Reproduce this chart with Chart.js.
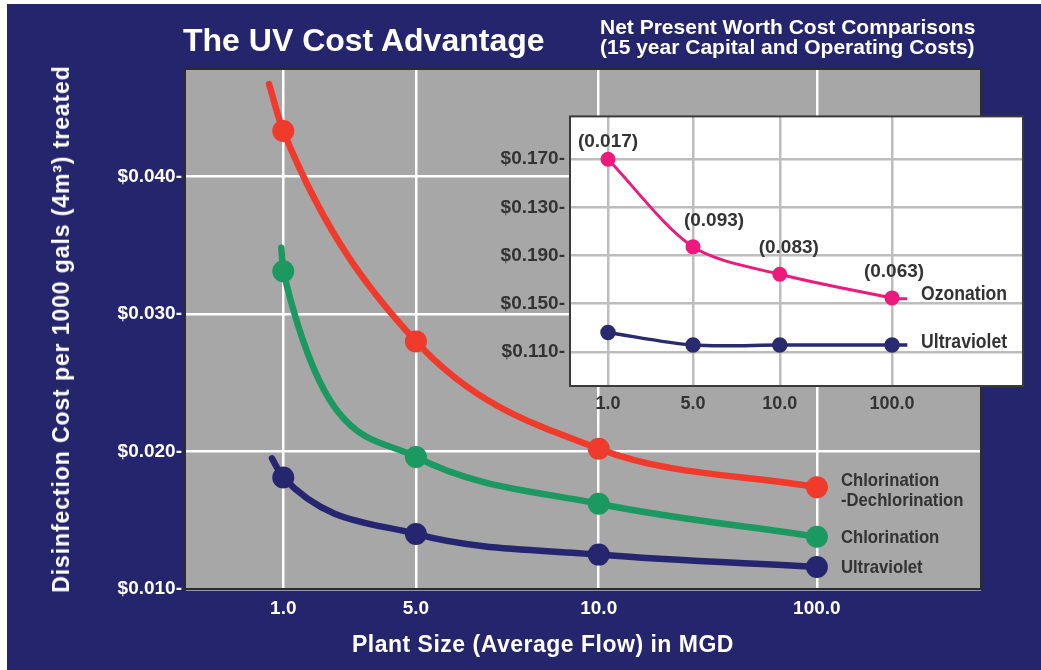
<!DOCTYPE html>
<html>
<head>
<meta charset="utf-8">
<script src="https://cdn.jsdelivr.net/npm/chart.js@4.4.1/dist/chart.umd.min.js"></script>
<style>
  html, body { margin: 0; padding: 0; background: #fff; }
  #frame { position: absolute; left: 7px; top: 4px; width: 1034px; height: 666px; background: #25256e; }
  #main { position: absolute; left: 0; top: 0; }
  #inset { position: absolute; left: 470px; top: 100px; }
  .head { position: absolute; color: #fff; font-family: "Liberation Sans", Arial, sans-serif; font-weight: bold; white-space: nowrap; }
  #ytitle { left: 61px; top: 329px; font-size: 23px; line-height: 24px; letter-spacing: 0.9px;
            transform: translate(-50%, -50%) rotate(-90deg); }
</style>
</head>
<body>
<div id="frame"></div>
<canvas id="main" width="1041" height="670"></canvas>
<canvas id="inset" width="571" height="315"></canvas>
<div class="head" style="left:183px;top:24px;font-size:32px;line-height:32px;">The UV Cost Advantage</div>
<div class="head" style="left:600px;top:17px;font-size:21px;line-height:20px;">Net Present Worth Cost Comparisons<br>(15 year Capital and Operating Costs)</div>
<div class="head" style="left:352px;top:632px;font-size:23px;line-height:24px;letter-spacing:0.5px;">Plant Size (Average Flow) in MGD</div>
<div class="head" id="ytitle">Disinfection Cost per 1000 gals (4m&sup3;) treated</div>
<script>
// plant sizes and where each one sits along the (uneven) x axis
const flowLabels = ["1.0", "5.0", "10.0", "100.0"];
const flowSteps = [1, 2.35, 4.21, 6.43];

// main y axis
const costTicks = [0.01, 0.02, 0.03, 0.04];
const costTickLabels = ["$0.010-", "$0.020-", "$0.030-", "$0.040-"];

// cost per 1000 gals, one value per plant size
const chlorDechlor = [0.0433, 0.0280, 0.0202, 0.0174];
const chlorination = [0.0331, 0.0196, 0.0162, 0.0138];
const ultraviolet = [0.0181, 0.0140, 0.0125, 0.0116];

// the drawn curves start a little left of the 1.0 marker
const leadX = [0.855, 0.98, 0.885];
const leadY = [0.0467, 0.0348, 0.0195];

const mainNames = [["Chlorination", "-Dechlorination"], ["Chlorination"], ["Ultraviolet"]];

// inset: net present worth
const insetSteps = [0, 1, 2.02, 3.34];
const insetLevels = [5, 4, 3, 2, 1];
const insetTickLabels = ["$0.170-", "$0.130-", "$0.190-", "$0.150-", "$0.110-"];
const ozonation = [5.0, 3.18, 2.61, 2.12];
const ozonationNotes = ["(0.017)", "(0.093)", "(0.083)", "(0.063)"];
const uvInset = [1.40, 1.14, 1.14, 1.14];
const insetTailX = 3.52;
const ozonationTail = 2.10;
const uvTail = 1.14;
const insetNames = ["Ozonation", "Ultraviolet"];

const sans = '"Liberation Sans", Arial, sans-serif';

function series(lx, ly, values) {
  return [{ x: lx, y: ly }].concat(flowSteps.map((x, i) => ({ x: x, y: values[i] })));
}

// squeezed text, to get close to the condensed face of the original
function narrowText(ctx, text, x, y, squeeze) {
  ctx.save();
  ctx.translate(x, y);
  ctx.scale(squeeze, 1);
  ctx.fillText(text, 0, 0);
  ctx.restore();
}

const panelBg = {
  id: "panelBg",
  beforeDraw(chart, args, opts) {
    const a = chart.chartArea, ctx = chart.ctx;
    ctx.save();
    ctx.fillStyle = opts.fill;
    ctx.fillRect(a.left, a.top, a.right - a.left, a.bottom - a.top);
    ctx.restore();
  },
  afterDraw(chart, args, opts) {
    const a = chart.chartArea, ctx = chart.ctx;
    ctx.save();
    ctx.strokeStyle = opts.stroke;
    ctx.lineWidth = 2;
    ctx.strokeRect(a.left, a.top, a.right - a.left, a.bottom - a.top);
    ctx.restore();
  }
};

const mainLabels = {
  id: "mainLabels",
  afterDatasetsDraw(chart) {
    const ctx = chart.ctx;
    ctx.save();
    ctx.fillStyle = "#333";
    ctx.font = "bold 19px " + sans;
    ctx.textBaseline = "middle";
    ctx.textAlign = "left";
    chart.data.datasets.forEach((ds, d) => {
      const pts = chart.getDatasetMeta(d).data;
      const p = pts[pts.length - 1];
      const lines = mainNames[d];
      const n = lines.length;
      lines.forEach((t, k) => {
        const y = p.y + 1 + (k - (n - 1) / 2) * 20 + (n > 1 ? 3 : 0);
        narrowText(ctx, t, p.x + 24, y, 0.88);
      });
    });
    ctx.restore();
  }
};

new Chart(document.getElementById("main"), {
  type: "line",
  data: {
    datasets: [
      { label: "Chlorination-Dechlorination", data: series(leadX[0], leadY[0], chlorDechlor),
        borderColor: "#f03a2c", backgroundColor: "#f03a2c" },
      { label: "Chlorination", data: series(leadX[1], leadY[1], chlorination),
        borderColor: "#1c9961", backgroundColor: "#1c9961" },
      { label: "Ultraviolet", data: series(leadX[2], leadY[2], ultraviolet),
        borderColor: "#262670", backgroundColor: "#262670" }
    ]
  },
  options: {
    responsive: false,
    animation: false,
    layout: { padding: { left: 0, top: 69, right: 60, bottom: 0 } },
    elements: {
      line: { borderWidth: 6.5, cubicInterpolationMode: "monotone", borderCapStyle: "round" },
      point: { radius: [0, 11, 11, 11, 11], borderWidth: 0, hoverRadius: 11 }
    },
    plugins: {
      legend: { display: false },
      tooltip: { enabled: false },
      panelBg: { fill: "#a7a7a7", stroke: "#2c2c2c" }
    },
    scales: {
      x: {
        type: "linear", min: 0, max: 8.1,
        afterBuildTicks: s => { s.ticks = flowSteps.map(v => ({ value: v })); },
        afterFit: s => { s.height = 81; },
        ticks: { color: "#fff", padding: 8, autoSkip: false, maxRotation: 0,
          font: { family: sans, size: 19, weight: "bold" },
          callback: (v, i) => flowLabels[i] },
        grid: { color: "#fff", lineWidth: 2.5, drawTicks: false },
        border: { display: true, color: "#2c2c2c", width: 2 }
      },
      y: {
        min: 0.01, max: 0.0478,
        afterBuildTicks: s => { s.ticks = costTicks.map(v => ({ value: v })); },
        afterFit: s => { s.width = 185; },
        ticks: { color: "#fff", padding: 3,
          font: { family: sans, size: 19, weight: "bold" },
          callback: (v, i) => costTickLabels[i] },
        grid: { color: "#fff", lineWidth: 2.5, drawTicks: false },
        border: { display: true, color: "#2c2c2c", width: 2 }
      }
    }
  },
  plugins: [panelBg, mainLabels]
});

const noteOffsets = [[0, -17], [21, -26], [9, -27], [2, -26]];

const insetText = {
  id: "insetText",
  afterDatasetsDraw(chart) {
    const ctx = chart.ctx;
    ctx.save();
    ctx.fillStyle = "#333";
    ctx.font = "bold 19px " + sans;
    ctx.textBaseline = "middle";
    ctx.textAlign = "center";
    const oz = chart.getDatasetMeta(0).data;
    ozonationNotes.forEach((t, i) => {
      narrowText(ctx, t, oz[i].x + noteOffsets[i][0], oz[i].y + noteOffsets[i][1], 1);
    });
    ctx.textAlign = "left";
    ctx.font = "bold 20px " + sans;
    [0, 1].forEach(d => {
      const p = chart.getDatasetMeta(d).data[3];
      narrowText(ctx, insetNames[d], p.x + 29, p.y - 3, 0.88);
    });
    ctx.restore();
  }
};

new Chart(document.getElementById("inset"), {
  type: "line",
  data: {
    datasets: [
      { label: "Ozonation",
        data: insetSteps.map((x, i) => ({ x: x, y: ozonation[i] })).concat([{ x: insetTailX, y: ozonationTail }]),
        borderColor: "#ec1a7c", backgroundColor: "#ec1a7c", borderWidth: 3 },
      { label: "Ultraviolet",
        data: insetSteps.map((x, i) => ({ x: x, y: uvInset[i] })).concat([{ x: insetTailX, y: uvTail }]),
        borderColor: "#2a2a6e", backgroundColor: "#2a2a6e", borderWidth: 3.5 }
    ]
  },
  options: {
    responsive: false,
    animation: false,
    layout: { padding: { left: 0, top: 9, right: 18, bottom: 0 } },
    elements: {
      line: { tension: 0.3 },
      point: { radius: [6, 6, 6, 6, 0], borderWidth: 0, hoverRadius: 6 }
    },
    plugins: {
      legend: { display: false },
      tooltip: { enabled: false },
      panelBg: { fill: "#fff", stroke: "#3a3a3a" }
    },
    scales: {
      x: {
        type: "linear", min: -0.447, max: 4.88,
        afterBuildTicks: s => { s.ticks = insetSteps.map(v => ({ value: v })); },
        afterFit: s => { s.height = 29; },
        ticks: { color: "#333", padding: 7, autoSkip: false, maxRotation: 0,
          font: { family: sans, size: 18, weight: "bold" },
          callback: (v, i) => flowLabels[i] },
        grid: { color: "#bdbdbd", lineWidth: 2.5, drawTicks: false },
        border: { display: false }
      },
      y: {
        min: 0.29, max: 5.89,
        afterBuildTicks: s => { s.ticks = insetLevels.slice().reverse().map(v => ({ value: v })); },
        afterFit: s => { s.width = 100; },
        ticks: { color: "#333", padding: 5,
          font: { family: sans, size: 19, weight: "bold" },
          callback: v => insetTickLabels[insetLevels.indexOf(v)] },
        grid: { color: "#bdbdbd", lineWidth: 2.5, drawTicks: false },
        border: { display: false }
      }
    }
  },
  plugins: [panelBg, insetText]
});
</script>
</body>
</html>
